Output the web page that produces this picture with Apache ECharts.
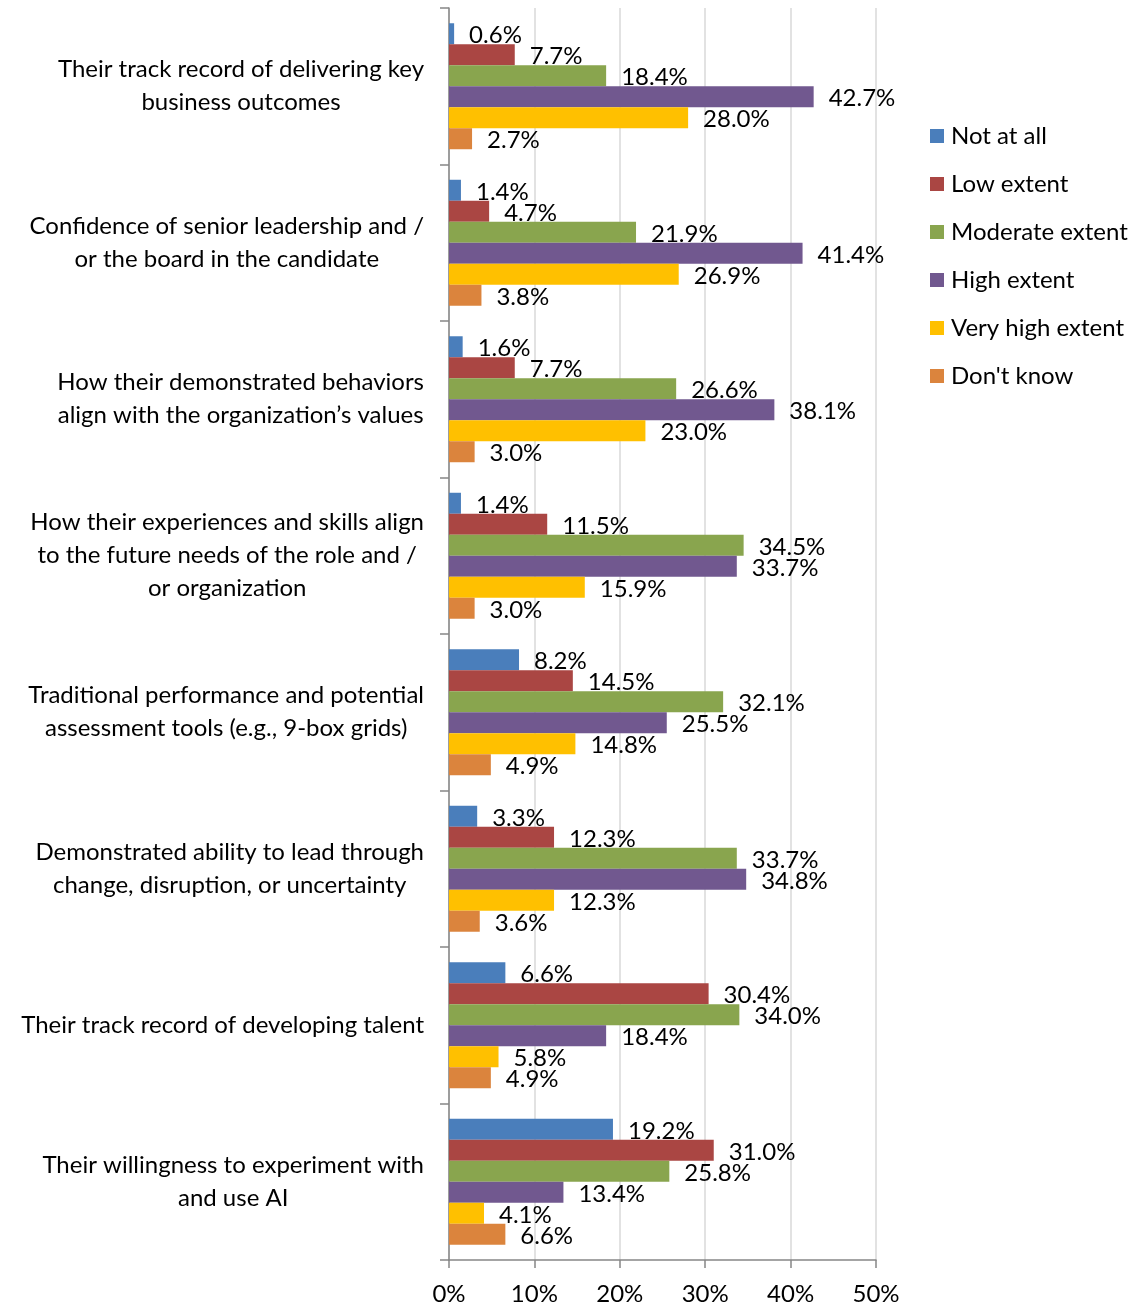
<!DOCTYPE html>
<html><head><meta charset="utf-8">
<script src="https://cdn.jsdelivr.net/npm/echarts@6/dist/echarts.min.js"></script>
<style>html,body{margin:0;padding:0;background:#fff}#c{width:1142px;height:1307px}</style>
</head><body><div id="c"></div>
<script>
const categories = [
  "Their track record of delivering key\nbusiness outcomes",
  "Confidence of senior leadership and /\nor the board in the candidate",
  "How their demonstrated behaviors\nalign with the organization’s values",
  "How their experiences and skills align\nto the future needs of the role and /\nor organization",
  "Traditional performance and potential\nassessment tools (e.g., 9-box grids)",
  "Demonstrated ability to lead through\nchange, disruption, or uncertainty",
  "Their track record of developing talent",
  "Their willingness to experiment with\nand use AI"
];
const seriesNames = ["Not at all","Low extent","Moderate extent","High extent","Very high extent","Don't know"];
const notAtAll = [0.6, 1.4, 1.6, 1.4, 8.2, 3.3, 6.6, 19.2];
const lowExtent = [7.7, 4.7, 7.7, 11.5, 14.5, 12.3, 30.4, 31.0];
const moderateExtent = [18.4, 21.9, 26.6, 34.5, 32.1, 33.7, 34.0, 25.8];
const highExtent = [42.7, 41.4, 38.1, 33.7, 25.5, 34.8, 18.4, 13.4];
const veryHighExtent = [28.0, 26.9, 23.0, 15.9, 14.8, 12.3, 5.8, 4.1];
const dontKnow = [2.7, 3.8, 3.0, 3.0, 4.9, 3.6, 4.9, 6.6];
const xTicks = [0, 10, 20, 30, 40, 50];

const values = [notAtAll, lowExtent, moderateExtent, highExtent, veryHighExtent, dontKnow];
const colors = ['#4a7ebb', '#aa4643', '#89a54e', '#71588f', '#ffc000', '#db843d'];
const FONT = 'Lato';
const FS = 24;

const chart = echarts.init(document.getElementById('c'));
chart.setOption({
  animation: false,
  textStyle: { fontFamily: FONT },
  grid: { left: 449, right: 266, top: 8, bottom: 47, containLabel: false },
  legend: {
    orient: 'vertical', left: 930, top: 124, padding: 0,
    itemWidth: 14, itemHeight: 14, itemGap: 24, icon: 'rect',
    textStyle: { fontFamily: FONT, fontSize: FS, color: '#000', lineHeight: 24, padding: [0,0,0,2] },
    data: seriesNames
  },
  xAxis: {
    type: 'value', min: xTicks[0], max: xTicks[xTicks.length - 1], interval: 10,
    axisLine: { show: true, lineStyle: { color: '#868686', width: 1.5 } },
    axisTick: { show: true, length: 8, lineStyle: { color: '#868686', width: 1.5 } },
    splitLine: { show: true, lineStyle: { color: '#d9d9d9', width: 1.5 } },
    axisLabel: { formatter: '{value}%', fontFamily: FONT, fontSize: FS, color: '#000', margin: 22 }
  },
  yAxis: {
    type: 'category', inverse: true, data: categories,
    axisLine: { show: true, lineStyle: { color: '#868686', width: 1.5 } },
    axisTick: { show: true, length: 9, lineStyle: { color: '#868686', width: 1.5 } },
    axisLabel: {
      margin: 25, color: '#000', fontFamily: FONT, fontSize: FS, lineHeight: 33, align: 'right',
      formatter: function (v) { return v.split('\n').map(function (l) { return '{c|' + l + '}'; }).join('\n'); },
      rich: { c: { align: 'center', fontFamily: FONT, fontSize: FS, lineHeight: 33, color: '#000' } }
    }
  },
  series: seriesNames.map(function (n, i) {
    return {
      name: n, type: 'bar', data: values[i],
      barGap: '0%', barCategoryGap: '19.5%',
      itemStyle: { color: colors[i] },
      label: {
        show: true, position: 'right', distance: 15, offset: [0, 2],
        formatter: function (p) { return p.value.toFixed(1) + '%'; },
        fontFamily: FONT, fontSize: FS, color: '#000'
      }
    };
  })
});
</script></body></html>
